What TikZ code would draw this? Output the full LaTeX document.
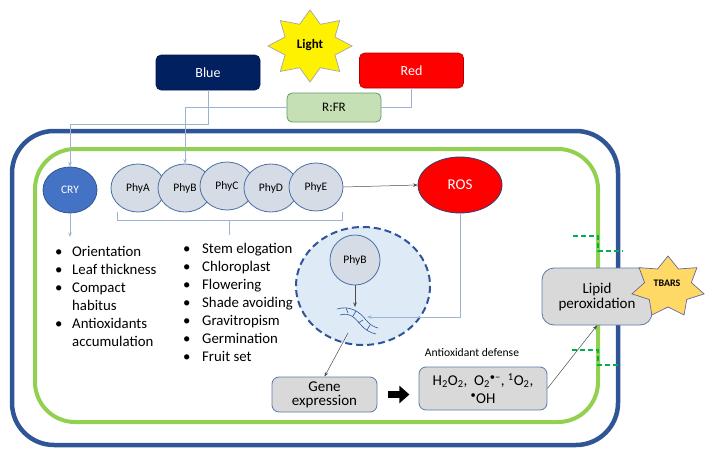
\documentclass[tikz,border=0pt]{standalone}
\usepackage{fontspec}
\setmainfont{Carlito}
\usetikzlibrary{arrows.meta,shapes.geometric}
\definecolor{wallblue}{HTML}{2F5597}
\definecolor{memgreen}{HTML}{92D050}
\definecolor{navy}{HTML}{002060}
\definecolor{boxgray}{HTML}{D9D9D9}
\definecolor{boxedge}{HTML}{5A79A8}
\definecolor{phyfill}{HTML}{D6DCE5}
\definecolor{phyedge}{HTML}{4A6FA5}
\definecolor{linkblue}{HTML}{9DB3D6}
\definecolor{nucfill}{HTML}{DEEBF7}
\definecolor{rfrfill}{HTML}{C5E0B4}
\definecolor{tbars}{HTML}{FFD966}
\definecolor{dashgreen}{HTML}{00B050}
\definecolor{cryfill}{HTML}{4472C4}
\definecolor{rosedge}{HTML}{2F3F6F}
\begin{document}
\begin{tikzpicture}[x=1pt,y=-1pt,
  tip/.style={-{Stealth[length=4.5pt,width=3.5pt]}},
  link/.style={draw=linkblue, line width=0.8pt},
  darklink/.style={draw=black!70, line width=0.5pt},
  colorbox/.style={rounded corners=5pt, minimum width=104pt, minimum height=35pt, text=white, font=\fontsize{14}{16}\selectfont, line width=0.6pt},
  graybox/.style={rounded corners=7pt, fill=boxgray, draw=boxedge, line width=0.8pt, align=center, font=\fontsize{15}{17}\selectfont},
  phy/.style={ellipse, fill=phyfill, draw=phyedge, line width=0.8pt, minimum width=54pt, minimum height=48pt, inner sep=0pt, font=\fontsize{11.5}{13}\selectfont},
  memdash/.style={draw=dashgreen, line width=1.5pt, dash pattern=on 5pt off 3pt},
  bullets/.style={anchor=base west, inner sep=0pt, font=\fontsize{14.8}{18}\selectfont}
]
\useasboundingbox (0,0) rectangle (715,458);

% cell wall and membrane
\draw[wallblue, line width=4.5pt, rounded corners=42pt] (12,131) rectangle (618,445);
\draw[memgreen, line width=4pt, rounded corners=40pt] (35,149) rectangle (598,422);

% membrane damage marks
\draw[memdash] (573,236) -- (598,236) -- (598,251) -- (623,251);
\draw[memdash] (572,350) -- (598,350) -- (598,365) -- (621,365);

% Light star
\draw[fill=yellow, draw=gray!70, line width=0.7pt] (310,10)
  \foreach \i in {0,...,7} {-- ({310+42*sin(\i*45)},{46-36*cos(\i*45)}) -- ({310+27*sin(\i*45+22.5)},{46-23.5*cos(\i*45+22.5)})} -- cycle;
\node[font=\bfseries\fontsize{13}{15}\selectfont] (light) at (310,45) {Light};

% Blue / Red / R:FR
\node[colorbox, fill=navy, draw=navy!80!black] (blue) at (208,72.5) {Blue};
\node[colorbox, fill=red, draw=red!70!black] (red) at (411.5,70.5) {Red};
\node[rounded corners=5pt, fill=rfrfill, draw=gray!80!green, line width=0.8pt, minimum width=94pt, minimum height=29pt, font=\fontsize{13}{15}\selectfont] (rfr) at (334,107.5) {R:FR};

% CRY and phytochromes
\node[ellipse, fill=cryfill, draw=wallblue, line width=0.8pt, minimum width=54pt, minimum height=46pt, inner sep=0pt, text=white, font=\fontsize{11.5}{13}\selectfont] (cry) at (70,190) {CRY};
\node[phy] (phya) at (138,188) {PhyA};
\node[phy] (phyb) at (185,188) {PhyB};
\node[phy] (phyc) at (227,186) {PhyC};
\node[phy] (phyd) at (271,188) {PhyD};
\node[phy] (phye) at (316,187) {PhyE};

% ROS
\node[ellipse, fill=red, draw=rosedge, line width=0.8pt, minimum width=84pt, minimum height=56pt, inner sep=0pt, text=white, font=\fontsize{15}{17}\selectfont] (ros) at (460,185) {ROS};

% light connectors
\draw[link, tip] (blue.south) -- ++(0,34.5) -| (cry.north);
\draw[link, tip] (rfr.west) -| (phyb.north);
\draw[link] (red.south) |- (rfr.east);
\draw[darklink, tip] (phye.east) -- (ros.west);

% brace under phytochromes
\draw[draw=linkblue, line width=0.8pt] (117,212) -- (117,220) -- (342,220) -- (342,212);
\draw[draw=linkblue, line width=0.8pt] (229,220) -- (229,235);

% CRY effects
\coordinate (cryend) at (70,237);
\draw[link, tip] (cry.south) -- (cryend);
\node[bullets] (crylist) at (55,256) {\begin{tabular}[t]{@{}p{17pt}@{}l@{}}
\textbullet & Orientation\\
\textbullet & Leaf thickness\\
\textbullet & Compact\\
 & habitus\\
\textbullet & Antioxidants\\
 & accumulation
\end{tabular}};

\node[bullets] (phylist) at (183,253) {\begin{tabular}[t]{@{}p{19pt}@{}l@{}}
\textbullet & Stem elogation\\
\textbullet & Chloroplast\\
\textbullet & Flowering\\
\textbullet & Shade avoiding\\
\textbullet & Gravitropism\\
\textbullet & Germination\\
\textbullet & Fruit set
\end{tabular}};

% nucleus
\draw[fill=nucfill, draw=wallblue, line width=2pt, dash pattern=on 7pt off 4pt] (363,286) ellipse [x radius=67, y radius=59];
\node[circle, fill=phyfill, draw=phyedge, line width=0.8pt, minimum size=50pt, inner sep=0pt, font=\fontsize{11.5}{13}\selectfont] (nphyb) at (355,260) {PhyB};

% DNA
\draw[wallblue, line width=0.6pt] (337,309) .. controls (350,305) and (360,312) .. (366,320) .. controls (370,325) and (374,327) .. (378,328);
\draw[wallblue, line width=0.6pt] (340,315) .. controls (350,312) and (355,318) .. (361,325) .. controls (366,331) and (372,333) .. (376,334);
\draw[wallblue, line width=0.6pt] (346,308) -- (348,313) (356,311) -- (353,316) (363,320) -- (358,323) (370,325) -- (367,330);
\coordinate (dnatop) at (355,307);
\coordinate (dnaright) at (367,317);
\coordinate (dnabot) at (348,333);
\draw[darklink, tip] (nphyb.south) -- (dnatop);
\draw[link, tip] (ros.south) |- (dnaright);

% lower boxes
\node[graybox, minimum width=105pt, minimum height=35pt, inner sep=1pt] (gene) at (324.5,394.5) {Gene\\[-3pt]expression};
\node[graybox, minimum width=128pt, minimum height=43pt, inner sep=1pt] (rosbox) at (483,388.5) {H\textsubscript{2}O\textsubscript{2},\ \ O\textsubscript{2}\textsuperscript{\textbullet\textendash}, \textsuperscript{1}O\textsubscript{2},\\[1pt]\textsuperscript{\textbullet}OH};
\node[font=\fontsize{11.6}{13}\selectfont] (antidef) at (472,353) {Antioxidant defense};
\draw[darklink, tip] (dnabot) -- (gene.north);
\draw[line width=7pt, -{Triangle[length=10pt,width=17pt]}] ([xshift=11pt]gene.east) -- ++(21,0);

% lipid peroxidation
\node[graybox, rounded corners=12pt, minimum width=110pt, minimum height=57pt, inner sep=1pt] (lipid) at (597,296.5) {Lipid\\[-2pt]peroxidation};
\draw[darklink, tip] (rosbox.east) -- (lipid.south);

% TBARS star
\draw[fill=tbars, draw=gray!80!blue, line width=0.7pt] (668,256)
  \foreach \i in {0,...,6} {-- ({668+37*sin(\i*360/7)},{287-31*cos(\i*360/7)}) -- ({668+24*sin(\i*360/7+180/7)},{287-20*cos(\i*360/7+180/7)})} -- cycle;
\node[font=\bfseries\fontsize{10}{12}\selectfont] (tbarstext) at (667,283) {TBARS};
\end{tikzpicture}
\end{document}
